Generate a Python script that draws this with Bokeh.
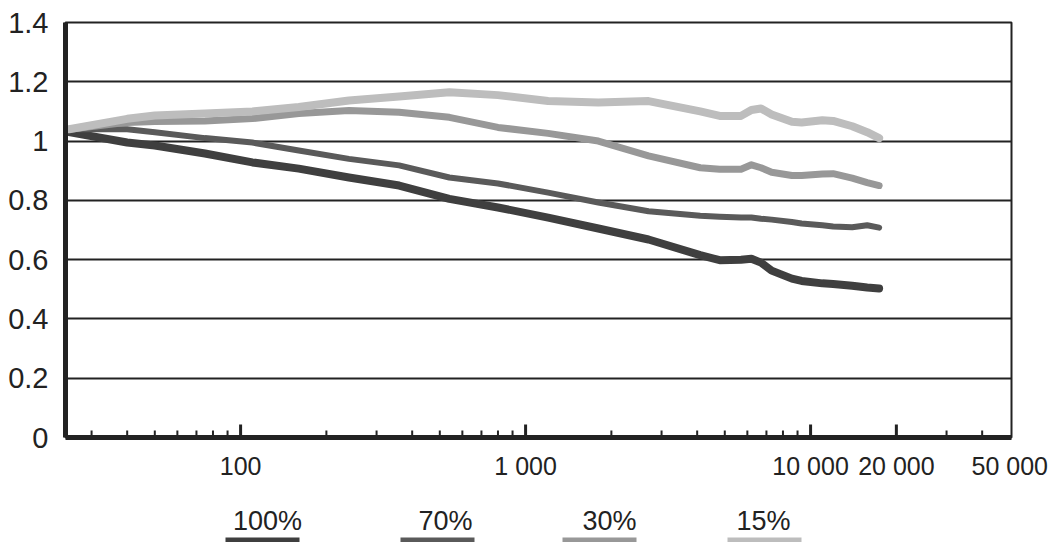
import math
from bokeh.plotting import figure
from bokeh.models import Range1d, FixedTicker
from bokeh.layouts import column
from bokeh.embed import file_html
from bokeh.resources import INLINE
from bokeh.core.properties import value

# ---- data ----
x_vals = [25, 40, 50, 75, 110, 160, 240, 360, 540, 800, 1200, 1800, 2700,
          4100, 4800, 5700, 6200, 6700, 7300, 8600, 9300, 11000, 12000,
          14000, 15800, 17400]
s100 = [1.03, 0.995, 0.985, 0.958, 0.928, 0.907, 0.877, 0.85, 0.805, 0.776,
        0.742, 0.705, 0.668, 0.615, 0.598, 0.60, 0.603, 0.59, 0.563, 0.536,
        0.528, 0.52, 0.518, 0.512, 0.506, 0.503]
s70 = [1.04, 1.04, 1.03, 1.01, 0.995, 0.968, 0.94, 0.918, 0.877, 0.857,
       0.826, 0.793, 0.763, 0.748, 0.745, 0.742, 0.742, 0.738, 0.735, 0.727,
       0.722, 0.716, 0.712, 0.709, 0.716, 0.708]
s30 = [1.04, 1.063, 1.066, 1.068, 1.076, 1.093, 1.103, 1.097, 1.08, 1.046,
       1.026, 1.0, 0.95, 0.91, 0.905, 0.905, 0.92, 0.91, 0.895, 0.884,
       0.884, 0.889, 0.89, 0.875, 0.86, 0.85]
s15 = [1.04, 1.075, 1.086, 1.093, 1.10, 1.115, 1.137, 1.15, 1.165, 1.155,
       1.135, 1.13, 1.135, 1.1, 1.085, 1.085, 1.105, 1.11, 1.09, 1.065,
       1.063, 1.07, 1.068, 1.05, 1.03, 1.01]
series_labels = ["100%", "70%", "30%", "15%"]

y_ticks = [0, 0.2, 0.4, 0.6, 0.8, 1.0, 1.2, 1.4]
y_tick_labels = ["0", "0.2", "0.4", "0.6", "0.8", "1", "1.2", "1.4"]
x_ticks = [100, 1000, 10000, 20000, 50000]
x_tick_labels = ["100", "1 000", "10 000", "20 000", "50 000"]
x_major_marks = [100, 1000, 10000, 20000]
x_minor_ticks = [30, 40, 50, 60, 70, 80, 90,
                 200, 300, 400, 500, 600, 700, 800, 900,
                 2000, 3000, 4000, 5000, 6000, 7000, 8000, 9000,
                 30000, 40000]

# ---- styles ----
colors = ["#3f3f3f", "#5a5a5a", "#989898", "#bdbdbd"]
widths = [8, 6, 7, 8]
FONT = "Liberation Sans"
INK = "#222222"
FRAME_L, FRAME_R = 65, 1011

p = figure(width=1052, height=490, x_axis_type="log",
           x_range=Range1d(24.3, 50700), y_range=Range1d(0, 1.4),
           output_backend="svg", toolbar_location=None,
           min_border_left=FRAME_L, min_border_right=1052 - FRAME_R,
           min_border_top=22, min_border_bottom=53,
           background_fill_color="white", border_fill_color="white")

p.xgrid.visible = False
p.ygrid.ticker = FixedTicker(ticks=y_ticks)
p.ygrid.grid_line_color = INK
p.ygrid.grid_line_width = 2
p.ygrid.grid_line_alpha = 1.0

p.outline_line_color = INK
p.outline_line_width = 2
p.outline_line_alpha = 1.0

for ys, c, w in zip([s100, s70, s30, s15], colors, widths):
    p.line(x_vals, ys, line_color=c, line_width=w,
           line_cap="round", line_join="round")

# inward tick marks (vertical dashes centred on the axis, clipped by the frame)
p.scatter(x_major_marks, [0] * len(x_major_marks), marker="dash", size=26,
          angle=math.pi / 2, line_color=INK, line_width=3)
p.scatter(x_minor_ticks, [0] * len(x_minor_ticks), marker="dash", size=14,
          angle=math.pi / 2, line_color=INK, line_width=2)

xa = p.xaxis[0]
xa.ticker = FixedTicker(ticks=x_ticks, minor_ticks=[])
xa.major_label_overrides = dict(zip(x_ticks, x_tick_labels))
xa.axis_line_width = 5
xa.axis_line_color = INK
xa.major_tick_line_color = None
xa.minor_tick_line_color = None
xa.major_label_text_font = FONT
xa.major_label_text_font_size = "25px"
xa.major_label_text_color = INK
xa.major_label_standoff = 8

ya = p.yaxis[0]
ya.ticker = FixedTicker(ticks=y_ticks)
ya.major_label_overrides = dict(zip(y_ticks, y_tick_labels))
ya.axis_line_width = 5
ya.axis_line_color = INK
ya.major_tick_line_color = None
ya.minor_tick_line_color = None
ya.major_label_text_font = FONT
ya.major_label_text_font_size = "29px"
ya.major_label_text_color = INK
ya.major_label_standoff = 11

# ---- legend strip below the chart (its frame is aligned with the chart's frame) ----
lg = figure(width=1052, height=52, x_range=Range1d(FRAME_L, FRAME_R), y_range=Range1d(0, 52),
            output_backend="svg", toolbar_location=None,
            x_axis_location=None, y_axis_location=None, min_border=0,
            background_fill_color="white", border_fill_color="white")
lg.grid.visible = False
lg.outline_line_color = None
rect_lefts = [225, 400, 562, 727]
rect_rights = [l + 74 for l in rect_lefts]
text_centers = [267, 445, 609, 763]
lg.quad(left=rect_lefts, right=rect_rights, bottom=0, top=5,
        fill_color=colors, line_color=None)
lg.text(x=text_centers, y=[7] * 4, text=series_labels, text_align="center",
        text_baseline="bottom", text_font=value(FONT),
        text_font_size="27px", text_color=INK)

layout = column(p, lg, spacing=0)
open("out.html", "w").write(file_html(layout, INLINE))
